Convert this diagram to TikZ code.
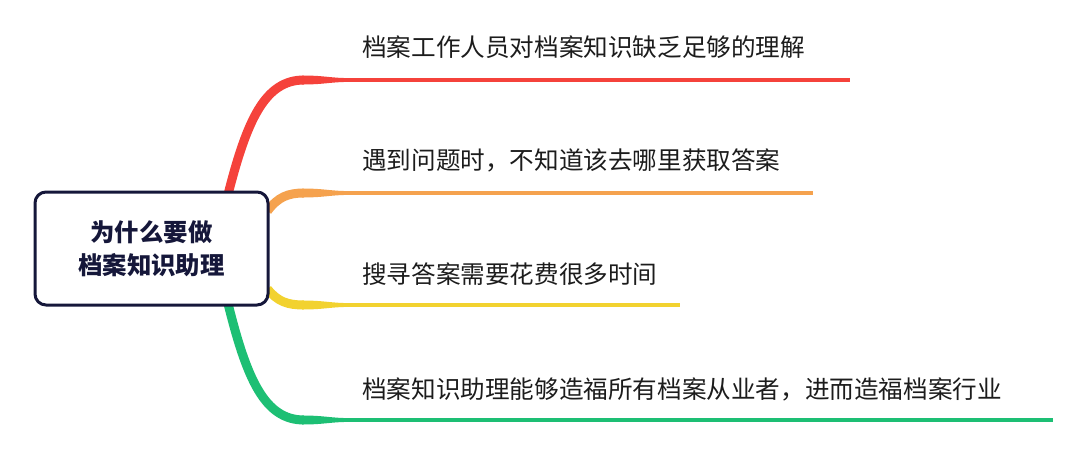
\documentclass[tikz,border=0pt]{standalone}
\usepackage{fontspec}
\setmainfont{Noto Sans CJK SC}
\usetikzlibrary{positioning,backgrounds}

\definecolor{hubline}{HTML}{15173A}
\definecolor{inkgray}{HTML}{1C1C1C}
\definecolor{brred}{HTML}{F5423B}
\definecolor{brorange}{HTML}{F5A24E}
\definecolor{bryellow}{HTML}{F2D22F}
\definecolor{brgreen}{HTML}{1DBF74}

\begin{document}
\begin{tikzpicture}[x=1pt, y=-1pt,
  every node/.style={font=\fontsize{24.6pt}{33pt}\selectfont, text=inkgray},
  hub/.style={draw=hubline, line width=3pt, rounded corners=11pt, fill=white,
    minimum width=233pt, minimum height=113pt, align=center, inner sep=0pt,
    font=\bfseries\fontsize{24.4pt}{33pt}\selectfont, text=hubline},
  leaf/.style={anchor=west, inner sep=0pt},
  stem/.style={line width=9pt},
  twig/.style={line width=3.8pt}]
  %----- 畫布 -----
  \useasboundingbox (0,0) rectangle (1080,466);

  %----- 中心節點 -----
  \node[hub] (why) at (151.5,248.5) {为什么要做\\档案知识助理};

  %----- 文字 -----
  \node[leaf] (lack)  at (362,47)  {档案工作人员对档案知识缺乏足够的理解};
  \node[leaf] (where) at (362,160) {遇到问题时，不知道该去哪里获取答案};
  \node[leaf] (time)  at (362,274) {搜寻答案需要花费很多时间};
  \node[leaf] (help)  at (362,389) {档案知识助理能够造福所有档案从业者，进而造福档案行业};

  %----- 分支:(名稱, 顏色, 起點, 控制點1, 控制點2, 轉折y, 終點x) -----
  \def\branch#1#2#3#4#5#6#7{
    \coordinate (#1s) at #3;
    \coordinate (#1b) at (304,#6);
    \coordinate (#1e) at (#7,#6);
    \draw[stem, #2] (#1s) .. controls #4 and #5 .. (#1b);
    \fill[#2] (302,#6-4.5) .. controls (325,#6-4.5) and (330,#6-1.9) .. (350,#6-1.9)
      -- (350,#6+1.9) .. controls (330,#6+1.9) and (325,#6+4.5) .. (302,#6+4.5) -- cycle;
    \draw[twig, #2] (349,#6) -- (#1e);
  }
  \begin{pgfonlayer}{background}
    \branch{r}{brred}{([shift={(76.5,4)}]why.north)}{(247,120)}{(265,80)}{80}{850}
    \branch{o}{brorange}{([shift={(-2,-37.5)}]why.east)}{(278,197)}{(288,193)}{193}{813}
    \branch{y}{bryellow}{([shift={(-2,40.5)}]why.east)}{(278,302)}{(288,305)}{305}{680}
    \branch{g}{brgreen}{([shift={(76.5,-3)}]why.south)}{(247,380)}{(265,420)}{420}{1053}
  \end{pgfonlayer}
\end{tikzpicture}
\end{document}
